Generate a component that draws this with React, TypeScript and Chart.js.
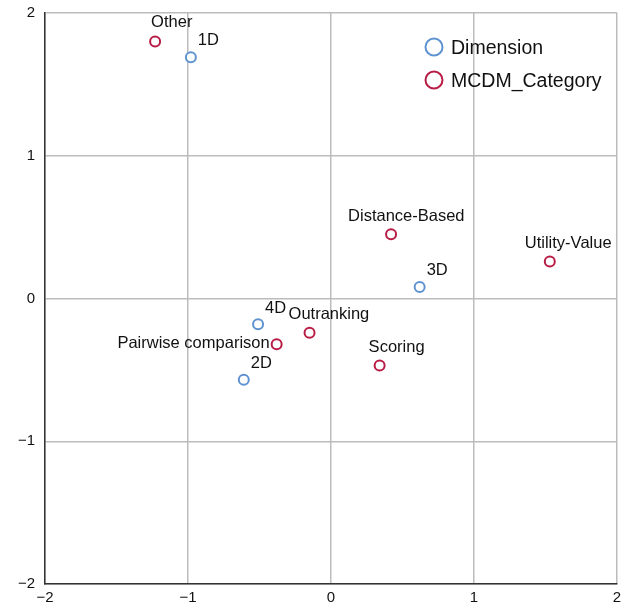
import React, { useEffect, useRef } from "react";
import { Chart, registerables } from "chart.js";

Chart.register(...registerables);

const dimLabels = ["1D", "2D", "3D", "4D"];
const dimX = [-0.98, -0.61, 0.62, -0.51];
const dimY = [1.69, -0.57, 0.08, -0.18];

const catLabels = ["Other", "Distance-Based", "Utility-Value", "Outranking", "Pairwise comparison", "Scoring"];
const catX = [-1.23, 0.42, 1.53, -0.15, -0.38, 0.34];
const catY = [1.8, 0.45, 0.26, -0.24, -0.32, -0.47];

const seriesNames = ["Dimension", "MCDM_Category"];
const axisTicks = [-2, -1, 0, 1, 2];

const BLUE = "#5f93cf";
const RED = "#b81c45";
const FONT = "'Liberation Sans', Arial, sans-serif";

const labelPos: Record<string, { dx: number; dy: number; align: CanvasTextAlign }> = {
  Other: { dx: -4, dy: -19, align: "left" },
  "1D": { dx: 7, dy: -17, align: "left" },
  "4D": { dx: 7, dy: -16, align: "left" },
  Outranking: { dx: -21, dy: -18, align: "left" },
  "Pairwise comparison": { dx: -7, dy: -1, align: "right" },
  "2D": { dx: 7, dy: -16, align: "left" },
  Scoring: { dx: -11, dy: -18, align: "left" },
  "Distance-Based": { dx: -43, dy: -18, align: "left" },
  "Utility-Value": { dx: -25, dy: -18, align: "left" },
  "3D": { dx: 7, dy: -17, align: "left" },
};

const fmt = (v: number) => (v < 0 ? "\u2212" + Math.abs(v) : String(v));

const labelPlugin = {
  id: "pointLabels",
  afterDatasetsDraw(chart: any) {
    const ctx = chart.ctx;
    ctx.save();
    ctx.font = `16.5px ${FONT}`;
    ctx.fillStyle = "#111";
    ctx.textBaseline = "middle";
    chart.data.datasets.forEach((ds: any, di: number) => {
      const meta = chart.getDatasetMeta(di);
      meta.data.forEach((el: any, i: number) => {
        const name = ds.names[i];
        const p = labelPos[name] || { dx: 7, dy: -16, align: "left" };
        ctx.textAlign = p.align;
        ctx.fillText(name, el.x + p.dx, el.y + p.dy);
      });
    });
    // legend
    const ca = chart.chartArea;
    const lx = ca.right - 183;
    const ly = ca.top + 34;
    ctx.font = `19.5px ${FONT}`;
    ctx.textAlign = "left";
    chart.data.datasets.forEach((ds: any, di: number) => {
      const y = ly + di * 33;
      ctx.beginPath();
      ctx.arc(lx, y, 8.5, 0, Math.PI * 2);
      ctx.lineWidth = 2;
      ctx.strokeStyle = ds.borderColor;
      ctx.fillStyle = "#fff";
      ctx.fill();
      ctx.stroke();
      ctx.fillStyle = "#111";
      ctx.fillText(ds.label, lx + 17, y + 1.5);
    });
    ctx.restore();
  },
};

export default function App() {
  const ref = useRef<HTMLCanvasElement>(null);
  useEffect(() => {
    document.body.style.margin = "0";
    const chart = new Chart(ref.current!, {
      type: "scatter",
      data: {
        datasets: [
          {
            label: seriesNames[0],
            names: dimLabels,
            data: dimX.map((x, i) => ({ x, y: dimY[i] })),
            borderColor: BLUE,
            backgroundColor: "#fff",
            borderWidth: 2,
            pointRadius: 5,
          } as any,
          {
            label: seriesNames[1],
            names: catLabels,
            data: catX.map((x, i) => ({ x, y: catY[i] })),
            borderColor: RED,
            backgroundColor: "#fff",
            borderWidth: 2,
            pointRadius: 5,
          } as any,
        ],
      },
      options: {
        animation: false,
        responsive: false,
        layout: { padding: { top: 13, right: 12, left: 0, bottom: 0 } },
        plugins: { legend: { display: false }, tooltip: { enabled: false } },
        scales: {
          x: {
            type: "linear",
            min: -2,
            max: 2,
            afterBuildTicks: (s: any) => {
              s.ticks = axisTicks.map((v) => ({ value: v }));
            },
            afterFit: (s: any) => {
              s.height = 25;
              s.paddingLeft = 0;
              s.paddingRight = 0;
            },
            grid: { color: "#bcbcbc", lineWidth: 1.5, drawTicks: false },
            border: { color: "#333", width: 1.5 },
            ticks: {
              padding: 5,
              color: "#111",
              font: { size: 15, family: FONT },
              callback: (v: any) => fmt(Number(v)),
              maxRotation: 0,
            },
          },
          y: {
            type: "linear",
            min: -2,
            max: 2,
            afterBuildTicks: (s: any) => {
              s.ticks = axisTicks.map((v) => ({ value: v }));
            },
            afterFit: (s: any) => {
              s.width = 45;
              s.paddingTop = 0;
              s.paddingBottom = 0;
            },
            grid: { color: "#bcbcbc", lineWidth: 1.5, drawTicks: false },
            border: { color: "#333", width: 1.5 },
            ticks: {
              padding: 10,
              color: "#111",
              font: { size: 15, family: FONT },
              callback: (v: any) => fmt(Number(v)),
            },
          },
        },
      } as any,
      plugins: [labelPlugin],
    });
    return () => chart.destroy();
  }, []);
  return (
    <div style={{ width: 629, height: 609 }}>
      <canvas ref={ref} width={629} height={609} style={{ display: "block" }} />
    </div>
  );
}
